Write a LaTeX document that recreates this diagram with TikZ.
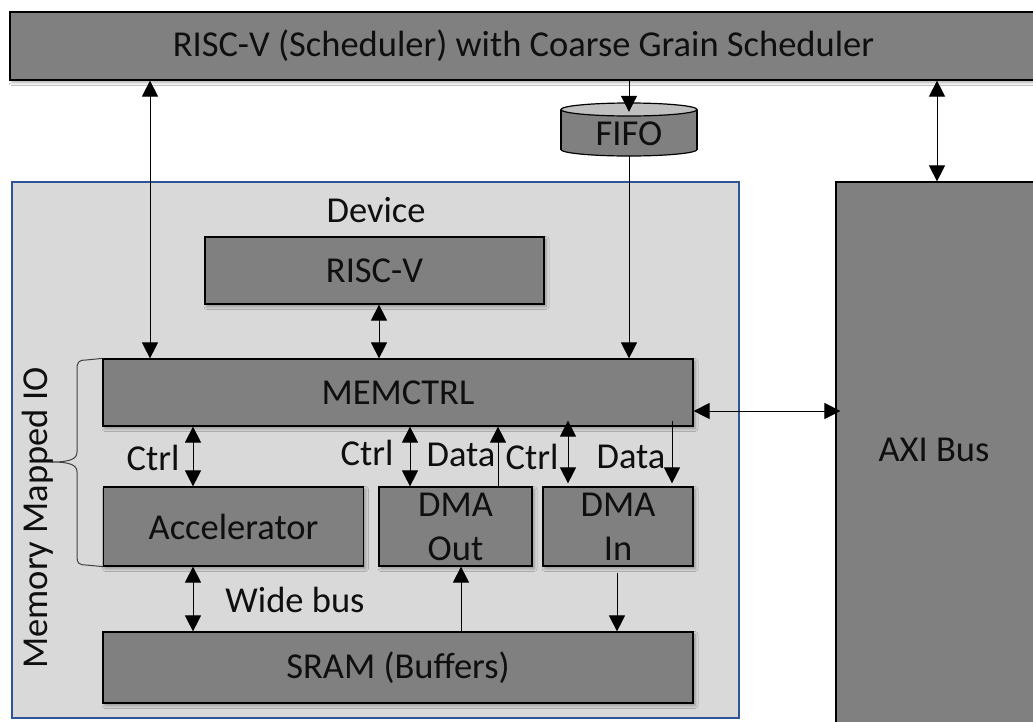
\documentclass[tikz,border=0pt]{standalone}
\usepackage{fontspec}
\setmainfont{Carlito}
\usetikzlibrary{arrows.meta,shadows.blur}
\definecolor{boxgray}{RGB}{128,128,128}
\definecolor{devfill}{RGB}{217,217,217}
\definecolor{devblue}{RGB}{47,85,151}
\definecolor{fifotop}{RGB}{191,191,191}
\definecolor{txt}{RGB}{15,15,15}
\begin{document}
\begin{tikzpicture}[x=1pt,y=-1pt,
  lbl/.style={font=\fontsize{36.5}{44}\selectfont, text=txt, inner sep=0pt},
  blk/.style={draw=black, line width=1.2pt, fill=boxgray, inner sep=0pt, anchor=center,
     font=\fontsize{36.5}{44}\selectfont, text=txt, align=center,
     blur shadow={shadow xshift=2pt, shadow yshift=-2.5pt, shadow blur radius=3pt, shadow opacity=35}},
  conn/.style={line width=1pt, draw=black},
  arr/.style={conn, -{Triangle[length=16pt,width=16pt]}},
  darr/.style={conn, {Triangle[length=16pt,width=16pt]}-{Triangle[length=16pt,width=16pt]}},
]
\useasboundingbox (0,0) rectangle (1033,721);
\clip (0,0) rectangle (1033,721);
\fill[white] (0,0) rectangle (1033,721);

% column coordinates
\coordinate (cL) at (150,0);
\coordinate (cF) at (629,0);
\coordinate (cR) at (937,0);
\coordinate (cRV) at (379,0);
\coordinate (cA) at (193,0);
\coordinate (cOc) at (410,0);
\coordinate (cOd) at (498,0);
\coordinate (cIc) at (568,0);
\coordinate (cId) at (672,0);
\coordinate (cOs) at (461,0);
\coordinate (cIs) at (617,0);
\coordinate (cY) at (0,411);

% top bar
\node[blk, minimum width=1027pt, minimum height=68pt] (top) at (523.5,46) {RISC-V (Scheduler) with Coarse Grain Scheduler};

% device container
\node[draw=devblue, line width=1.5pt, fill=devfill, inner sep=0pt, minimum width=727pt, minimum height=536pt] (dev) at (375.5,450) {};
\node[lbl] (devl) at (376,210) {Device};

% AXI bus
\node[blk, minimum width=210pt, minimum height=560pt] (axi) at (941,462) {};
\node[lbl] (axil) at (934,450) {AXI Bus};

% FIFO cylinder
\draw[line width=1.2pt, fill=boxgray] (629,149.5) ellipse [x radius=68pt, y radius=6.5pt];
\fill[boxgray] (561,109.5) rectangle (697,149.5);
\draw[line width=1.2pt] (561,109.5) -- (561,149.5) (697,109.5) -- (697,149.5);
\draw[line width=1.2pt, fill=fifotop] (629,109.5) ellipse [x radius=68pt, y radius=6.5pt];
\node[lbl, minimum width=136pt, minimum height=44pt] (fifo) at (629,134) {FIFO};

% inner blocks
\node[blk, minimum width=339pt, minimum height=67pt] (rv) at (374.5,270.5) {RISC-V};
\node[blk, minimum width=590pt, minimum height=67pt] (mem) at (398,392.5) {MEMCTRL};
\node[blk, minimum width=260pt, minimum height=79pt] (acc) at (233.5,526.5) {Accelerator};
\node[blk, minimum width=153pt, minimum height=79pt] (dout) at (455.5,526.5) {DMA\\Out};
\node[blk, minimum width=150pt, minimum height=79pt] (din) at (618,526.5) {DMA\\In};
\node[blk, minimum width=590pt, minimum height=71pt] (sram) at (398,667.5) {SRAM (Buffers)};

% brace
\draw[line width=1pt, draw=black!75] (mem.north west) -- (86,360)
  .. controls (79,360) and (77,362) .. (77,369) -- (77,452)
  .. controls (77,459) and (70,462) .. (52,462)
  .. controls (70,462) and (77,465) .. (77,472) -- (77,557)
  .. controls (77,563) and (79,565) .. (86,565) -- (acc.south west);
\node[lbl, rotate=90] (mmio) at (38,518) {Memory Mapped IO};

% connectors
\draw[darr] (top.south -| cL) -- (mem.north -| cL);
\draw[arr] (top.south -| cF) -- (fifo.north);
\draw[arr] (fifo.south) -- (mem.north -| cF);
\draw[darr] (top.south -| cR) -- (axi.north -| cR);
\draw[darr] (rv.south -| cRV) -- (mem.north -| cRV);
\draw[darr] (mem.east |- cY) -- ([xshift=5pt]axi.west |- cY);
\draw[darr] (mem.south -| cA) -- (acc.north -| cA);
\draw[darr] (acc.south -| cA) -- (sram.north -| cA);
\draw[darr] (mem.south -| cOc) -- (dout.north -| cOc);
\draw[arr] (dout.north -| cOd) -- (mem.south -| cOd);
\draw[darr] ([yshift=6pt]mem.south -| cIc) -- ([yshift=3pt]din.north -| cIc);
\draw[arr] ([yshift=6pt]mem.south -| cId) -- ([yshift=3pt]din.north -| cId);
\draw[arr] (sram.north -| cOs) -- (dout.south -| cOs);
\draw[arr] ([yshift=-6pt]din.south -| cIs) -- (sram.north -| cIs);

% labels
\node[lbl] (ctrl1) at (153,458) {Ctrl};
\node[lbl] (ctrl2) at (367,453) {Ctrl};
\node[lbl] (data1) at (461,455) {Data};
\node[lbl] (ctrl3) at (532,457) {Ctrl};
\node[lbl] (data2) at (631,457) {Data};
\node[lbl] (wide) at (295,600) {Wide bus};
\end{tikzpicture}
\end{document}
